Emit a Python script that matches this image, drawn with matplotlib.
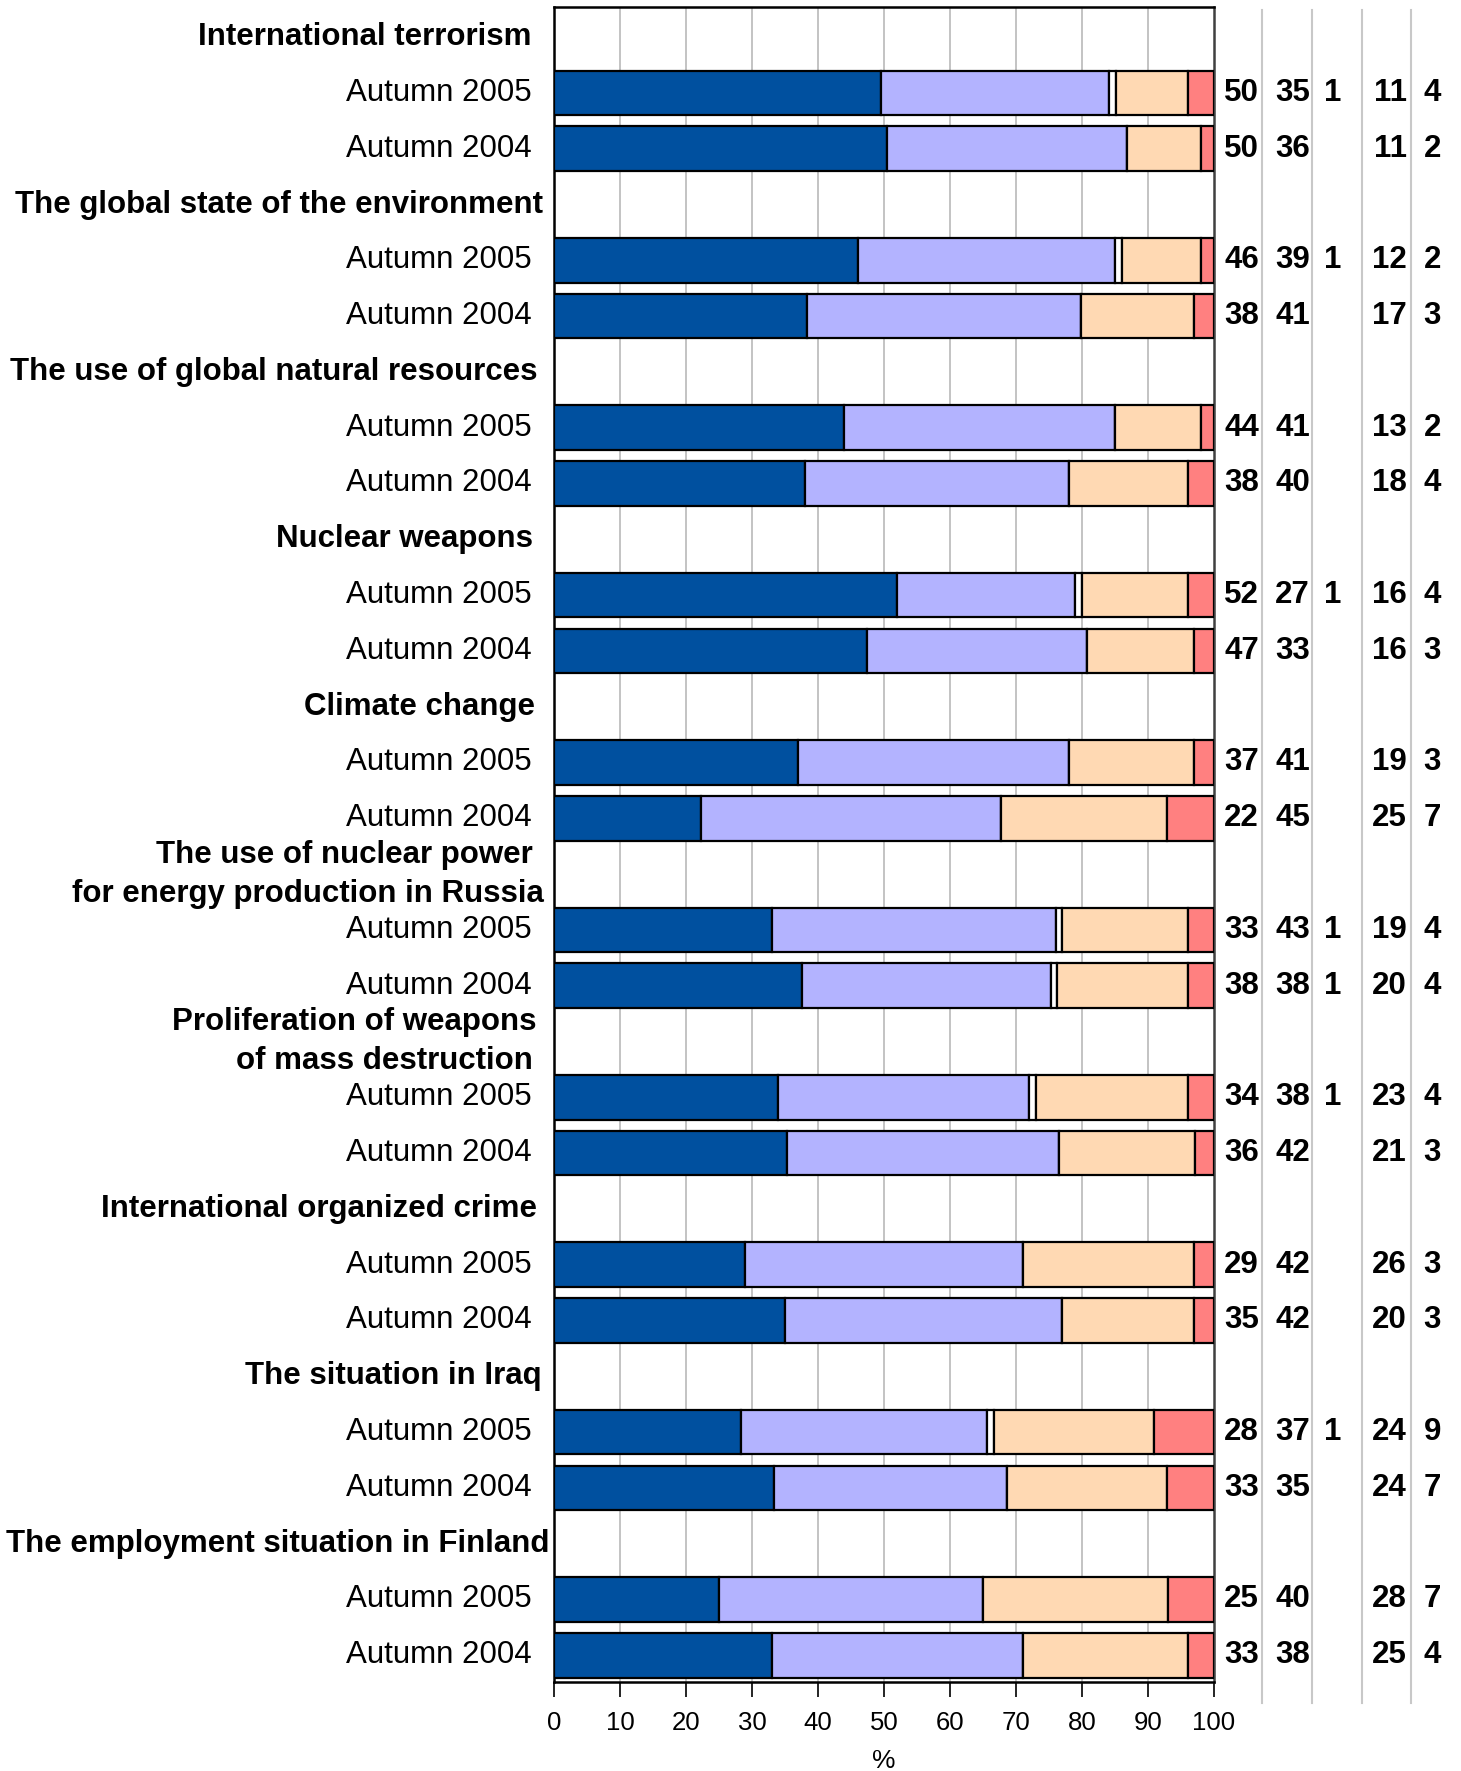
import matplotlib
matplotlib.use('Agg')
import matplotlib.pyplot as plt
import numpy as np
from matplotlib.transforms import blended_transform_factory
from matplotlib.lines import Line2D

plt.rcParams['font.family'] = ['Liberation Sans', 'DejaVu Sans']

topics = ['International terrorism',
          'The global state of the environment',
          'The use of global natural resources',
          'Nuclear weapons',
          'Climate change',
          'The use of nuclear power\nfor energy production in Russia',
          'Proliferation of weapons\nof mass destruction',
          'International organized crime',
          'The situation in Iraq',
          'The employment situation in Finland']
periods = ['Autumn 2005', 'Autumn 2004']

# values per bar, in order: topic1 2005, topic1 2004, topic2 2005, ...
very_much   = [50, 50, 46, 38, 44, 38, 52, 47, 37, 22, 33, 38, 34, 36, 29, 35, 28, 33, 25, 33]
quite_a_lot = [35, 36, 39, 41, 41, 40, 27, 33, 41, 45, 43, 38, 38, 42, 42, 42, 37, 35, 40, 38]
cant_say    = [1, 0, 1, 0, 0, 0, 1, 0, 0, 0, 1, 1, 1, 0, 0, 0, 1, 0, 0, 0]
not_very    = [11, 11, 12, 17, 13, 18, 16, 16, 19, 25, 19, 20, 23, 21, 26, 20, 24, 24, 28, 25]
not_at_all  = [4, 2, 2, 3, 2, 4, 4, 3, 3, 7, 4, 4, 4, 3, 3, 3, 9, 7, 7, 4]

series = [very_much, quite_a_lot, cant_say, not_very, not_at_all]
colors = ['#00509F', '#B3B3FF', '#FFFFFF', '#FFD9B3', '#FF8080']

W, H = 1461, 1771
fig = plt.figure(figsize=(W / 100, H / 100), dpi=100)
ax = fig.add_axes([554 / W, 1 - 1682 / H, 660 / W, 1675 / H])

vals = np.array(series, dtype=float)
totals = vals.sum(axis=0)
pct = vals / totals * 100

nrows = len(topics) * 3
bar_rows = []
for g in range(len(topics)):
    bar_rows += [3 * g + 1, 3 * g + 2]
ypos = np.array(bar_rows) + 0.5

left = np.zeros(len(ypos))
for k in range(len(series)):
    ax.barh(ypos, pct[k], left=left, height=0.8, color=colors[k],
            edgecolor='black', linewidth=1.6, zorder=3)
    left += pct[k]

ax.set_xlim(0, 100)
ax.set_ylim(nrows - 0.02, -0.04)
ax.set_xticks(np.arange(0, 101, 10))
ax.set_yticks([])
ax.tick_params(axis='x', direction='out', length=11, width=1.2, labelsize=18.5, pad=10)
for x in range(10, 100, 10):
    ax.axvline(x, color='#BEBEBE', lw=1.3, zorder=1)
for s in ['left', 'top', 'bottom']:
    ax.spines[s].set_linewidth(1.8)
    ax.spines[s].set_color('black')
ax.spines['right'].set_linewidth(1.8)
ax.spines['right'].set_color('#404040')
ax.set_xlabel('%', fontsize=19, labelpad=10)

trans = blended_transform_factory(fig.transFigure, ax.transData)

# right edges (px) of each header line, as placed in the reference
header_right = [[532], [543], [538], [533], [535], [533, 544], [536, 533], [537], [542], [550]]
for g, t in enumerate(topics):
    lines = t.split('\n')
    n = len(lines)
    for li, line in enumerate(lines):
        yoff = (li - (n - 1) / 2) * 0.7
        ax.text(header_right[g][li] / W, 3 * g + 0.5 + yoff, line, transform=trans,
                ha='right', va='center', fontsize=22.5, fontweight='bold')
    for j, p in enumerate(periods):
        ax.text(532 / W, 3 * g + 1 + j + 0.5, p, transform=trans, ha='right',
                va='center', fontsize=22.5)

# right value columns
col_right = [1259, 1310, 1341, 1407, 1441]
for i, y in enumerate(ypos):
    for k in range(len(series)):
        v = series[k][i]
        if v == 0:
            continue
        ax.text(col_right[k] / W, y, str(v), transform=trans, ha='right', va='center',
                fontsize=22.5, fontweight='bold')

# separators
for xs in [1262, 1312, 1362, 1411]:
    fig.add_artist(Line2D([xs / W, xs / W], [1 - 10 / H, 1 - 1703 / H],
                          transform=fig.transFigure, color='#C8C8C8', lw=1.5))

fig.savefig('out.png', dpi=100)
